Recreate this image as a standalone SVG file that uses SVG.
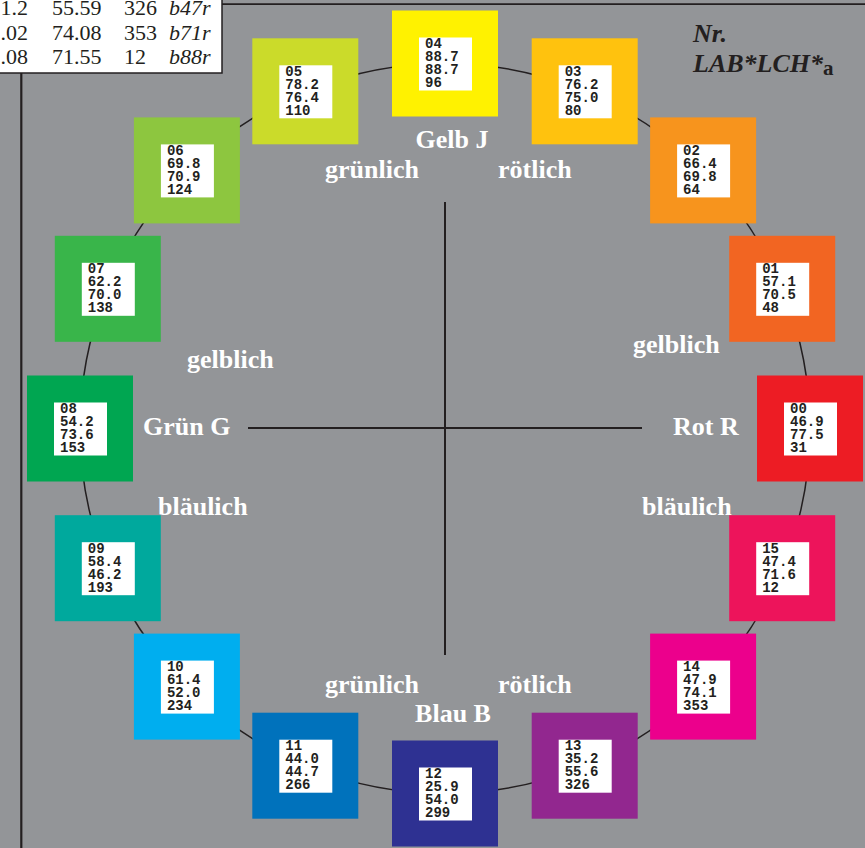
<svg xmlns="http://www.w3.org/2000/svg" width="865" height="848" viewBox="0 0 865 848">
<style>
.bg{fill:#939598}
.ln{stroke:#231F20;fill:none}
.sq{}
.in{fill:#ffffff}
.nt{font-family:"Liberation Mono","DejaVu Sans Mono",monospace;font-weight:bold;font-size:14px;fill:#231F20}
.lb{font-family:"Liberation Serif","Times New Roman",serif;font-weight:bold;font-size:26px;fill:#ffffff}
.hd{font-family:"Liberation Serif","Times New Roman",serif;font-weight:bold;font-style:italic;font-size:26px;fill:#231F20}
.tb{font-family:"Liberation Serif","Times New Roman",serif;font-size:22px;fill:#231F20}
.tbi{font-style:italic}
</style>
<rect class="bg" x="0" y="0" width="865" height="848"/>
<g id="frame">
<line class="ln" x1="222" y1="4.2" x2="865" y2="4.2" stroke-width="1.8"/>
<line class="ln" x1="21.3" y1="73" x2="21.3" y2="848" stroke-width="2.2"/>
<rect x="-2" y="-2" width="224" height="75" fill="#ffffff" stroke="#231F20" stroke-width="1.5"/>
<text class="tb" text-anchor="end" x="28" y="15">1.2</text>
<text class="tb" text-anchor="end" x="28" y="39.5">.02</text>
<text class="tb" text-anchor="end" x="28" y="64">.08</text>
<text class="tb" x="52" y="15">55.59</text>
<text class="tb" x="52" y="39.5">74.08</text>
<text class="tb" x="52" y="64">71.55</text>
<text class="tb" x="124" y="15">326</text>
<text class="tb" x="124" y="39.5">353</text>
<text class="tb" x="124" y="64">12</text>
<text class="tb tbi" x="169" y="15">b47r</text>
<text class="tb tbi" x="169" y="39.5">b71r</text>
<text class="tb tbi" x="169" y="64">b88r</text>
</g>
<g id="connectors">
<circle class="ln" cx="445" cy="428.5" r="365" stroke-width="1.5"/>
<line class="ln" x1="248" y1="428" x2="642" y2="428" stroke-width="2"/>
<line class="ln" x1="445" y1="202" x2="445" y2="655" stroke-width="2"/>
</g>
<g id="n00" transform="translate(810,428.5)"><rect x="-53" y="-53" width="106" height="106" fill="#ED1C24"/><rect class="in" x="-26" y="-26" width="53" height="53"/><text class="nt"><tspan x="-20" y="-15.5">00</tspan><tspan x="-20" y="-2.5">46.9</tspan><tspan x="-20" y="10.5">77.5</tspan><tspan x="-20" y="23.5">31</tspan></text></g>
<g id="n01" transform="translate(782.2,288.8)"><rect x="-53" y="-53" width="106" height="106" fill="#F26522"/><rect class="in" x="-26" y="-26" width="53" height="53"/><text class="nt"><tspan x="-20" y="-15.5">01</tspan><tspan x="-20" y="-2.5">57.1</tspan><tspan x="-20" y="10.5">70.5</tspan><tspan x="-20" y="23.5">48</tspan></text></g>
<g id="n02" transform="translate(703.1,170.4)"><rect x="-53" y="-53" width="106" height="106" fill="#F7941D"/><rect class="in" x="-26" y="-26" width="53" height="53"/><text class="nt"><tspan x="-20" y="-15.5">02</tspan><tspan x="-20" y="-2.5">66.4</tspan><tspan x="-20" y="10.5">69.8</tspan><tspan x="-20" y="23.5">64</tspan></text></g>
<g id="n03" transform="translate(584.7,91.3)"><rect x="-53" y="-53" width="106" height="106" fill="#FFC20E"/><rect class="in" x="-26" y="-26" width="53" height="53"/><text class="nt"><tspan x="-20" y="-15.5">03</tspan><tspan x="-20" y="-2.5">76.2</tspan><tspan x="-20" y="10.5">75.0</tspan><tspan x="-20" y="23.5">80</tspan></text></g>
<g id="n04" transform="translate(445,63.5)"><rect x="-53" y="-53" width="106" height="106" fill="#FFF200"/><rect class="in" x="-26" y="-26" width="53" height="53"/><text class="nt"><tspan x="-20" y="-15.5">04</tspan><tspan x="-20" y="-2.5">88.7</tspan><tspan x="-20" y="10.5">88.7</tspan><tspan x="-20" y="23.5">96</tspan></text></g>
<g id="n05" transform="translate(305.3,91.3)"><rect x="-53" y="-53" width="106" height="106" fill="#CBDB2A"/><rect class="in" x="-26" y="-26" width="53" height="53"/><text class="nt"><tspan x="-20" y="-15.5">05</tspan><tspan x="-20" y="-2.5">78.2</tspan><tspan x="-20" y="10.5">76.4</tspan><tspan x="-20" y="23.5">110</tspan></text></g>
<g id="n06" transform="translate(186.9,170.4)"><rect x="-53" y="-53" width="106" height="106" fill="#8DC63F"/><rect class="in" x="-26" y="-26" width="53" height="53"/><text class="nt"><tspan x="-20" y="-15.5">06</tspan><tspan x="-20" y="-2.5">69.8</tspan><tspan x="-20" y="10.5">70.9</tspan><tspan x="-20" y="23.5">124</tspan></text></g>
<g id="n07" transform="translate(107.8,288.8)"><rect x="-53" y="-53" width="106" height="106" fill="#39B54A"/><rect class="in" x="-26" y="-26" width="53" height="53"/><text class="nt"><tspan x="-20" y="-15.5">07</tspan><tspan x="-20" y="-2.5">62.2</tspan><tspan x="-20" y="10.5">70.0</tspan><tspan x="-20" y="23.5">138</tspan></text></g>
<g id="n08" transform="translate(80,428.5)"><rect x="-53" y="-53" width="106" height="106" fill="#00A651"/><rect class="in" x="-26" y="-26" width="53" height="53"/><text class="nt"><tspan x="-20" y="-15.5">08</tspan><tspan x="-20" y="-2.5">54.2</tspan><tspan x="-20" y="10.5">73.6</tspan><tspan x="-20" y="23.5">153</tspan></text></g>
<g id="n09" transform="translate(107.8,568.2)"><rect x="-53" y="-53" width="106" height="106" fill="#00A99D"/><rect class="in" x="-26" y="-26" width="53" height="53"/><text class="nt"><tspan x="-20" y="-15.5">09</tspan><tspan x="-20" y="-2.5">58.4</tspan><tspan x="-20" y="10.5">46.2</tspan><tspan x="-20" y="23.5">193</tspan></text></g>
<g id="n10" transform="translate(186.9,686.6)"><rect x="-53" y="-53" width="106" height="106" fill="#00AEEF"/><rect class="in" x="-26" y="-26" width="53" height="53"/><text class="nt"><tspan x="-20" y="-15.5">10</tspan><tspan x="-20" y="-2.5">61.4</tspan><tspan x="-20" y="10.5">52.0</tspan><tspan x="-20" y="23.5">234</tspan></text></g>
<g id="n11" transform="translate(305.3,765.7)"><rect x="-53" y="-53" width="106" height="106" fill="#0072BC"/><rect class="in" x="-26" y="-26" width="53" height="53"/><text class="nt"><tspan x="-20" y="-15.5">11</tspan><tspan x="-20" y="-2.5">44.0</tspan><tspan x="-20" y="10.5">44.7</tspan><tspan x="-20" y="23.5">266</tspan></text></g>
<g id="n12" transform="translate(445,793.5)"><rect x="-53" y="-53" width="106" height="106" fill="#2E3192"/><rect class="in" x="-26" y="-26" width="53" height="53"/><text class="nt"><tspan x="-20" y="-15.5">12</tspan><tspan x="-20" y="-2.5">25.9</tspan><tspan x="-20" y="10.5">54.0</tspan><tspan x="-20" y="23.5">299</tspan></text></g>
<g id="n13" transform="translate(584.7,765.7)"><rect x="-53" y="-53" width="106" height="106" fill="#92278F"/><rect class="in" x="-26" y="-26" width="53" height="53"/><text class="nt"><tspan x="-20" y="-15.5">13</tspan><tspan x="-20" y="-2.5">35.2</tspan><tspan x="-20" y="10.5">55.6</tspan><tspan x="-20" y="23.5">326</tspan></text></g>
<g id="n14" transform="translate(703.1,686.6)"><rect x="-53" y="-53" width="106" height="106" fill="#EC008C"/><rect class="in" x="-26" y="-26" width="53" height="53"/><text class="nt"><tspan x="-20" y="-15.5">14</tspan><tspan x="-20" y="-2.5">47.9</tspan><tspan x="-20" y="10.5">74.1</tspan><tspan x="-20" y="23.5">353</tspan></text></g>
<g id="n15" transform="translate(782.2,568.2)"><rect x="-53" y="-53" width="106" height="106" fill="#ED145B"/><rect class="in" x="-26" y="-26" width="53" height="53"/><text class="nt"><tspan x="-20" y="-15.5">15</tspan><tspan x="-20" y="-2.5">47.4</tspan><tspan x="-20" y="10.5">71.6</tspan><tspan x="-20" y="23.5">12</tspan></text></g>
<g id="labels">
<text class="lb" x="452" y="148" text-anchor="middle">Gelb J</text>
<text class="lb" x="325" y="178">grünlich</text>
<text class="lb" x="498" y="178">rötlich</text>
<text class="lb" x="187" y="368">gelblich</text>
<text class="lb" x="633" y="353">gelblich</text>
<text class="lb" x="143" y="435">Grün G</text>
<text class="lb" x="673" y="435">Rot R</text>
<text class="lb" x="158" y="515">bläulich</text>
<text class="lb" x="642" y="515">bläulich</text>
<text class="lb" x="325" y="693">grünlich</text>
<text class="lb" x="498" y="693">rötlich</text>
<text class="lb" x="453" y="722" text-anchor="middle">Blau B</text>
<text class="hd" x="693" y="42">Nr.</text>
<text class="hd" x="693" y="72">LAB*LCH*<tspan font-style="normal" font-size="21px" dy="3">a</tspan></text>
</g>
</svg>
